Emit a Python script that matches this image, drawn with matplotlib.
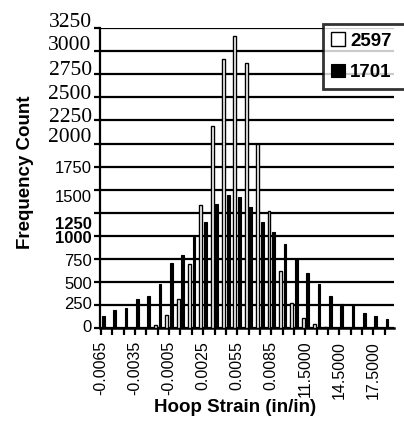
import matplotlib
matplotlib.use("Agg")
import matplotlib.pyplot as plt
import matplotlib.transforms as mtransforms
import numpy as np

# ---- data ----
categories = ["-0.0065", "-0.0055", "-0.0045", "-0.0035", "-0.0025", "-0.0015",
              "-0.0005", "0.0005", "0.0015", "0.0025", "0.0035", "0.0045",
              "0.0055", "0.0065", "0.0075", "0.0085", "0.0095", "0.0105",
              "11.5000", "12.5000", "13.5000", "14.5000", "15.5000", "16.5000",
              "17.5000", "18.5000"]
series_2597 = [0, 0, 0, 0, 0, 36, 146, 318, 694, 1330, 2192, 2915, 3167,
               2867, 1998, 1267, 625, 274, 110, 47, 18, 0, 0, 0, 0, 0]
series_1701 = [135, 193, 219, 318, 354, 475, 705, 793, 990, 1154, 1350, 1440,
               1420, 1315, 1151, 1041, 913, 749, 603, 475, 354, 266, 255, 164,
               135, 99]
y_ticks = [0, 250, 500, 750, 1000, 1250, 1500, 1750, 2000, 2250, 2500, 2750,
           3000, 3250]
series_names = ["2597", "1701"]

W, H = 404, 421
fig = plt.figure(figsize=(W / 100, H / 100), dpi=100)
ax = fig.add_axes([100 / W, 1 - 328.3 / H, 294 / W, (328.3 - 28) / H])

x = np.arange(len(categories))
ax.bar(x - 0.2, series_2597, width=0.26, color="white", edgecolor="black",
       linewidth=1.0, zorder=3, label=series_names[0])
ax.bar(x + 0.2, series_1701, width=0.24, color="black", edgecolor="black",
       linewidth=0.8, zorder=3, label=series_names[1])

ax.set_xlim(-0.09, 25.81)
ax.set_ylim(0, 3250)

# gridlines
ax.set_yticks(y_ticks)
ax.yaxis.grid(True, color="black", linewidth=1.6, zorder=0)
ax.set_axisbelow(True)

for s in ["top", "right"]:
    ax.spines[s].set_visible(False)
ax.spines["left"].set_linewidth(1.6)
ax.spines["bottom"].set_linewidth(1.8)

# x ticks
ax.set_xticks(x)
ax.set_xticklabels([c if i % 3 == 0 else "" for i, c in enumerate(categories)],
                   rotation=90, fontsize=11.5, family="Liberation Sans")
ax.tick_params(axis="x", direction="out", length=5, width=1.6, pad=4)
ax.tick_params(axis="y", direction="out", length=4, width=1.6, pad=2)

# y tick labels: mixed fonts and displaced positions as in the scan
ylabels = ax.set_yticklabels([str(v) for v in y_ticks])
offsets = [-2, -2, 1, 1, 1, 10, 6, 0, -8, -5, -5, -6, -8, -8]
for lab, v, off in zip(ylabels, y_ticks, offsets):
    if v >= 2000:
        lab.set_family("Liberation Serif")
        lab.set_fontsize(15.5)
    else:
        lab.set_family("Liberation Sans")
        lab.set_fontsize(12)
        if v in (1000, 1250):
            lab.set_fontweight("bold")
    lab.set_transform(lab.get_transform() +
                      mtransforms.ScaledTranslation(0, -off / 100, fig.dpi_scale_trans))

fig.text(26 / W, 1 - 172 / H, "Frequency Count", rotation=90, ha="center",
         va="center", fontsize=13.5, fontweight="bold", family="Liberation Sans")
fig.text(235 / W, 1 - 408 / H, "Hoop Strain (in/in)", ha="center", va="center",
         fontsize=13.5, fontweight="bold", family="Liberation Sans")

leg = fig.legend(loc="upper left", bbox_to_anchor=(323 / W, 1 - 24 / H, 100 / W, 0.0),
                 mode="expand",
                 prop={"family": "Liberation Sans", "weight": "bold", "size": 13.5},
                 frameon=True, fancybox=False, handlelength=0.7, handleheight=0.7,
                 handletextpad=0.3, labelspacing=0.75, borderpad=0.45,
                 borderaxespad=0)
leg.get_frame().set_edgecolor("black")
leg.get_frame().set_linewidth(2)

fig.savefig("out.png", dpi=100)
